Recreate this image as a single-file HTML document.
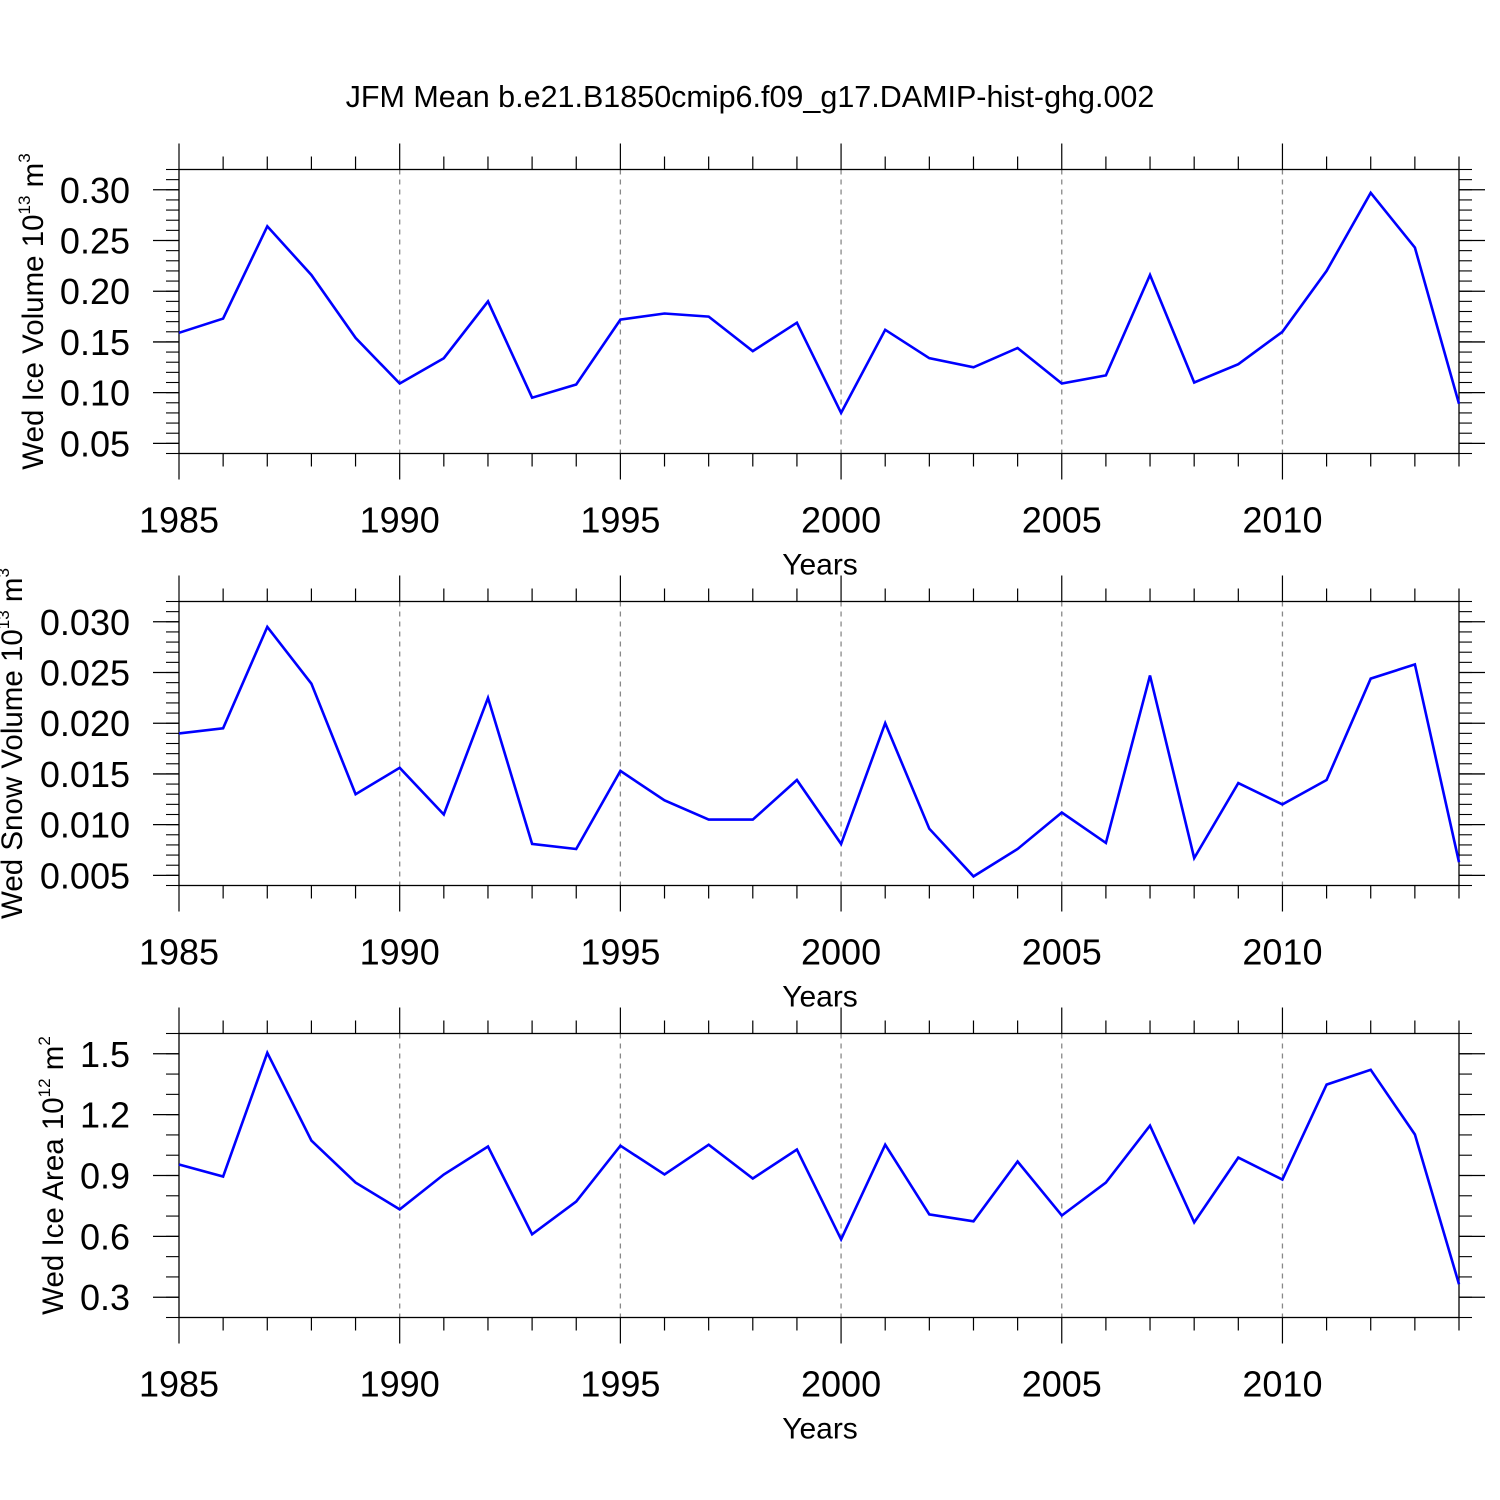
<!DOCTYPE html>
<html><head><meta charset="utf-8"><style>
html,body{margin:0;padding:0;background:#fff;}
svg{display:block;font-family:"Liberation Sans",sans-serif;}
</style></head><body>
<svg id="chart" width="1500" height="1500" viewBox="0 0 1500 1500" xmlns="http://www.w3.org/2000/svg">
<rect width="1500" height="1500" fill="#fff"/>
<text x="750" y="107" font-size="30.5" text-anchor="middle">JFM Mean b.e21.B1850cmip6.f09_g17.DAMIP-hist-ghg.002</text>
</svg>
<script>
const years = [1985,1986,1987,1988,1989,1990,1991,1992,1993,1994,1995,1996,1997,1998,1999,2000,2001,2002,2003,2004,2005,2006,2007,2008,2009,2010,2011,2012,2013,2014];
const iceVolume = [0.159,0.173,0.264,0.216,0.154,0.109,0.134,0.190,0.095,0.108,0.172,0.178,0.175,0.141,0.169,0.080,0.162,0.134,0.125,0.144,0.109,0.117,0.216,0.110,0.128,0.160,0.220,0.297,0.243,0.089];
const snowVolume = [0.0190,0.0195,0.0295,0.0239,0.0130,0.0156,0.0110,0.0225,0.0081,0.0076,0.0153,0.0124,0.0105,0.0105,0.0144,0.0081,0.0200,0.0096,0.0049,0.0076,0.0112,0.0082,0.0247,0.0067,0.0141,0.0120,0.0144,0.0244,0.0258,0.0063];
const iceArea = [0.954,0.895,1.505,1.072,0.865,0.733,0.905,1.043,0.610,0.772,1.047,0.905,1.052,0.885,1.028,0.585,1.052,0.708,0.674,0.969,0.703,0.865,1.146,0.669,0.988,0.880,1.348,1.421,1.102,0.364];
const xTickLabels = ["1985","1990","1995","2000","2005","2010"];
const volTicks = ["0.05","0.10","0.15","0.20","0.25","0.30"];
const snowTicks = ["0.005","0.010","0.015","0.020","0.025","0.030"];
const areaTicks = ["0.3","0.6","0.9","1.2","1.5"];

const NS="http://www.w3.org/2000/svg";
const svg=document.getElementById('chart');
function mk(tag,attrs,parent){const e=document.createElementNS(NS,tag);for(const k in attrs)e.setAttribute(k,attrs[k]);(parent||svg).appendChild(e);return e;}
const X0=179,X1=1459;
function xs(yr){return X0+(yr-1985)/(2014-1985)*(X1-X0);}

function panel(name,top,ymin,ymax,ticks,minorStep,values,titleMain,sup,unit,titleX){
  const bot=top+284;
  const g=mk('g',{});
  
  
  const ys=v=>bot-(v-ymin)/(ymax-ymin)*(bot-top);
  xTickLabels.forEach(l=>{const x=xs(+l);if(x>X0+1&&x<X1-1){const d=mk('line',{x1:x,x2:x,y1:top,y2:bot,stroke:'#888','stroke-width':1.3,'stroke-dasharray':'5,5'},g);}});
  years.forEach(yr=>{const x=xs(yr);const major=(yr%5===0);const L=major?26:13;
    mk('line',{x1:x,x2:x,y1:top-L,y2:top,stroke:'#000','stroke-width':1.2},g);
    mk('line',{x1:x,x2:x,y1:bot,y2:bot+L,stroke:'#000','stroke-width':1.2},g);});
  const n=Math.round((ymax-ymin)/minorStep);
  for(let i=0;i<=n;i++){const v=ymin+i*minorStep;const y=ys(v);
    mk('line',{x1:X0-13,x2:X0,y1:y,y2:y,stroke:'#000','stroke-width':1.1},g);
    mk('line',{x1:X1,x2:X1+13,y1:y,y2:y,stroke:'#000','stroke-width':1.1},g);}
  ticks.forEach(t=>{const y=ys(+t);
    mk('line',{x1:X0-26,x2:X0,y1:y,y2:y,stroke:'#000','stroke-width':1.3},g);
    mk('line',{x1:X1,x2:X1+26,y1:y,y2:y,stroke:'#000','stroke-width':1.3},g);
    const tx=mk('text',{x:X0-49,y:y+13,'font-size':36,'text-anchor':'end'},g);tx.textContent=t;
    });
  const fr=mk('rect',{x:X0,y:top,width:X1-X0,height:bot-top,fill:'none',stroke:'#000','stroke-width':1.3},g);
  
  xTickLabels.forEach(l=>{const t=mk('text',{x:xs(+l),y:bot+79,'font-size':36,'text-anchor':'middle'},g);t.textContent=l;
    });
  const xt=mk('text',{x:820,y:bot+121,'font-size':30,'text-anchor':'middle'},g);xt.textContent='Years';
  
  const cy=(top+bot)/2;
  const yt=mk('text',{x:0,y:0,'font-size':29.5,'text-anchor':'middle',transform:`translate(${titleX},${cy}) rotate(-90)`},g);
  
  const s1=document.createElementNS(NS,'tspan');s1.textContent=titleMain+' 10';yt.appendChild(s1);
  const s2=document.createElementNS(NS,'tspan');s2.setAttribute('dy','-13');s2.setAttribute('font-size','17');s2.textContent=sup;yt.appendChild(s2);
  const s3=document.createElementNS(NS,'tspan');s3.setAttribute('dy','13');s3.textContent=' '+unit;yt.appendChild(s3);
  const s4=document.createElementNS(NS,'tspan');s4.setAttribute('dy','-13');s4.setAttribute('font-size','17');s4.textContent=name==='ice-area'?'2':'3';yt.appendChild(s4);
  const pts=values.map((v,i)=>xs(years[i]).toFixed(1)+','+ys(v).toFixed(1)).join(' ');
  const pl=mk('polyline',{points:pts,fill:'none',stroke:'#0000ff','stroke-width':2.6,'stroke-linejoin':'miter'},g);
  
}
panel('ice-volume',169.5,0.04,0.32,volTicks,0.01,iceVolume,'Wed Ice Volume','13','m',43);
panel('snow-volume',601.5,0.004,0.032,snowTicks,0.001,snowVolume,'Wed Snow Volume','13','m',22);
panel('ice-area',1033.5,0.2,1.6,areaTicks,0.1,iceArea,'Wed Ice Area','12','m',63);
</script>
</body></html>
